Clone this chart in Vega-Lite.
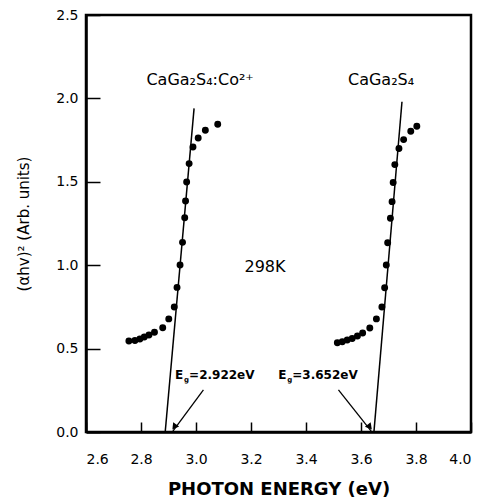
{
  "$schema": "https://vega.github.io/schema/vega-lite/v6.json",
  "width": 385,
  "height": 417,
  "autosize": "none",
  "padding": {"left": 86, "top": 15, "right": 15, "bottom": 72},
  "background": "white",
  "config": {
    "view": {"stroke": "black", "strokeWidth": 2.5},
    "axis": {
      "domainColor": "black", "domainWidth": 2.5,
      "tickColor": "black", "tickWidth": 1.5, "tickSize": -10,
      "grid": false, "labelColor": "black", "titleColor": "black",
      "labelFont": "DejaVu Sans", "titleFont": "DejaVu Sans", "labelFontSize": 14,
      "zindex": 1
    }
  },
  "datasets": {
    "pts": [
      {"s": "Co", "x": 2.756, "y": 0.546}, {"s": "Co", "x": 2.778, "y": 0.549},
      {"s": "Co", "x": 2.796, "y": 0.558}, {"s": "Co", "x": 2.812, "y": 0.570},
      {"s": "Co", "x": 2.829, "y": 0.582}, {"s": "Co", "x": 2.849, "y": 0.598},
      {"s": "Co", "x": 2.879, "y": 0.625}, {"s": "Co", "x": 2.901, "y": 0.678},
      {"s": "Co", "x": 2.921, "y": 0.749}, {"s": "Co", "x": 2.931, "y": 0.867},
      {"s": "Co", "x": 2.942, "y": 1.001}, {"s": "Co", "x": 2.951, "y": 1.137},
      {"s": "Co", "x": 2.959, "y": 1.285}, {"s": "Co", "x": 2.962, "y": 1.385},
      {"s": "Co", "x": 2.966, "y": 1.499}, {"s": "Co", "x": 2.975, "y": 1.609},
      {"s": "Co", "x": 2.989, "y": 1.709}, {"s": "Co", "x": 3.008, "y": 1.763},
      {"s": "Co", "x": 3.034, "y": 1.809}, {"s": "Co", "x": 3.079, "y": 1.845},
      {"s": "pure", "x": 3.514, "y": 0.535}, {"s": "pure", "x": 3.532, "y": 0.541},
      {"s": "pure", "x": 3.550, "y": 0.552}, {"s": "pure", "x": 3.568, "y": 0.561},
      {"s": "pure", "x": 3.587, "y": 0.576}, {"s": "pure", "x": 3.606, "y": 0.594},
      {"s": "pure", "x": 3.632, "y": 0.624}, {"s": "pure", "x": 3.656, "y": 0.678},
      {"s": "pure", "x": 3.676, "y": 0.749}, {"s": "pure", "x": 3.686, "y": 0.865},
      {"s": "pure", "x": 3.692, "y": 1.001}, {"s": "pure", "x": 3.697, "y": 1.135},
      {"s": "pure", "x": 3.707, "y": 1.281}, {"s": "pure", "x": 3.713, "y": 1.381},
      {"s": "pure", "x": 3.717, "y": 1.496}, {"s": "pure", "x": 3.723, "y": 1.603},
      {"s": "pure", "x": 3.738, "y": 1.700}, {"s": "pure", "x": 3.755, "y": 1.753},
      {"s": "pure", "x": 3.781, "y": 1.803}, {"s": "pure", "x": 3.803, "y": 1.833}
    ],
    "fits": [
      {"s": "Co", "x": 2.888, "y": 0}, {"s": "Co", "x": 2.993, "y": 1.94},
      {"s": "pure", "x": 3.647, "y": 0}, {"s": "pure", "x": 3.749, "y": 1.98}
    ],
    "arrows": [
      {"a": "a1", "x": 3.027, "y": 0.252, "x2": 2.916, "y2": 0.005, "hx": 2.921, "hy": 0.03},
      {"a": "a2", "x": 3.518, "y": 0.252, "x2": 3.637, "y2": 0.005, "hx": 3.632, "hy": 0.03}
    ],
    "names": [
      {"t": "CaGa₂S₄:Co²⁺", "x": 3.015, "y": 2.08},
      {"t": "CaGa₂S₄", "x": 3.673, "y": 2.08},
      {"t": "298K", "x": 3.251, "y": 0.96}
    ],
    "eg": [
      {"t": "=2.922eV", "x": 2.924, "y": 0.342},
      {"t": "=3.652eV", "x": 3.299, "y": 0.342}
    ]
  },
  "layer": [
    {
      "data": {"name": "pts"},
      "mark": {"type": "point", "shape": "circle", "filled": true, "color": "black", "size": 48, "opacity": 1},
      "encoding": {
        "x": {"field": "x", "type": "quantitative",
          "scale": {"domain": [2.6, 4.0], "nice": false, "zero": false},
          "axis": {"values": [2.6, 2.8, 3.0, 3.2, 3.4, 3.6, 3.8, 4.0], "format": ".1f",
            "title": "PHOTON ENERGY (eV)", "titleFontSize": 18, "titleFontWeight": "bold",
            "labelPadding": 30, "titlePadding": 14}},
        "y": {"field": "y", "type": "quantitative",
          "scale": {"domain": [0, 2.5], "nice": false},
          "axis": {"values": [0, 0.5, 1.0, 1.5, 2.0, 2.5], "format": ".1f",
            "title": "(αhv)² (Arb. units)", "titleFontSize": 15, "titleFontWeight": "normal",
            "tickSize": -14, "labelPadding": 22, "titlePadding": 24}}
      }
    },
    {
      "data": {"name": "fits"},
      "mark": {"type": "line", "color": "black", "strokeWidth": 1.5},
      "encoding": {
        "x": {"field": "x", "type": "quantitative"},
        "y": {"field": "y", "type": "quantitative"},
        "detail": {"field": "s"}
      }
    },
    {
      "data": {"name": "arrows"},
      "mark": {"type": "rule", "color": "black", "strokeWidth": 1.3},
      "encoding": {
        "x": {"field": "x", "type": "quantitative"},
        "y": {"field": "y", "type": "quantitative"},
        "x2": {"field": "x2"},
        "y2": {"field": "y2"}
      }
    },
    {
      "data": {"name": "arrows"},
      "transform": [{"filter": "datum.a == 'a1'"}],
      "mark": {"type": "point", "shape": "triangle-up", "filled": true, "color": "black", "size": 55, "opacity": 1, "angle": 216},
      "encoding": {
        "x": {"field": "hx", "type": "quantitative"},
        "y": {"field": "hy", "type": "quantitative"}
      }
    },
    {
      "data": {"name": "arrows"},
      "transform": [{"filter": "datum.a == 'a2'"}],
      "mark": {"type": "point", "shape": "triangle-up", "filled": true, "color": "black", "size": 55, "opacity": 1, "angle": 141},
      "encoding": {
        "x": {"field": "hx", "type": "quantitative"},
        "y": {"field": "hy", "type": "quantitative"}
      }
    },
    {
      "data": {"name": "names"},
      "mark": {"type": "text", "font": "DejaVu Sans", "fontSize": 16, "color": "black", "align": "center", "baseline": "alphabetic"},
      "encoding": {
        "x": {"field": "x", "type": "quantitative"},
        "y": {"field": "y", "type": "quantitative"},
        "text": {"field": "t"}
      }
    },
    {
      "data": {"name": "eg"},
      "mark": {"type": "text", "font": "DejaVu Sans", "fontSize": 12, "fontWeight": "bold", "color": "black", "align": "left", "baseline": "middle"},
      "encoding": {
        "x": {"field": "x", "type": "quantitative"},
        "y": {"field": "y", "type": "quantitative"},
        "text": {"value": "E"}
      }
    },
    {
      "data": {"name": "eg"},
      "mark": {"type": "text", "font": "DejaVu Sans", "fontSize": 7, "fontWeight": "bold", "color": "black", "align": "left", "baseline": "middle", "dx": 9, "dy": 5},
      "encoding": {
        "x": {"field": "x", "type": "quantitative"},
        "y": {"field": "y", "type": "quantitative"},
        "text": {"value": "g"}
      }
    },
    {
      "data": {"name": "eg"},
      "mark": {"type": "text", "font": "DejaVu Sans", "fontSize": 12, "fontWeight": "bold", "color": "black", "align": "left", "baseline": "middle", "dx": 14},
      "encoding": {
        "x": {"field": "x", "type": "quantitative"},
        "y": {"field": "y", "type": "quantitative"},
        "text": {"field": "t"}
      }
    }
  ]
}
